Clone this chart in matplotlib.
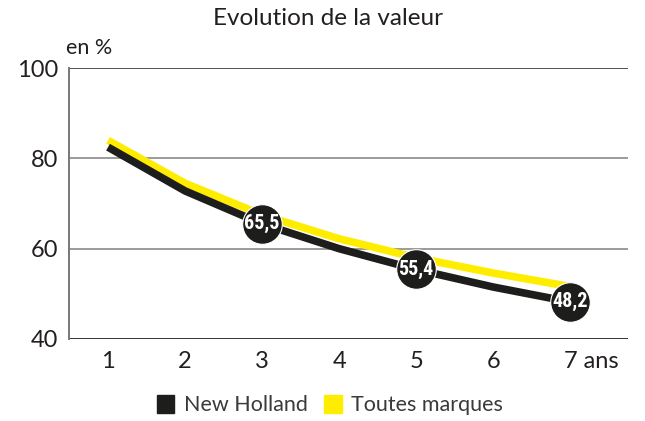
import matplotlib
matplotlib.use("Agg")
import matplotlib.pyplot as plt
import matplotlib.transforms as mtransforms

years = [1, 2, 3, 4, 5, 6, 7]
tick_labels = ["1", "2", "3", "4", "5", "6", "7 ans"]
new_holland = [82.5, 72.8, 65.5, 60.0, 55.4, 51.5, 48.2]
toutes_marques = [84.0, 74.5, 67.5, 62.2, 58.0, 54.6, 51.6]
badge_years = [3, 5, 7]
badge_values = [65.5, 55.4, 48.2]
badge_labels = ["65,5", "55,4", "48,2"]

plt.rcParams["font.family"] = ["Lato", "DejaVu Sans"]

fig = plt.figure(figsize=(6.45, 4.21), dpi=100)
ax = fig.add_axes([0.107, 0.195, 0.867, 0.643])

# x=1 at 108 px, 77 px per year
ax.set_xlim(1 - 39 / 77, 7 + 58 / 77)
ax.set_ylim(40, 100)

for y in (60, 80):
    ax.axhline(y, color="#8a8a8a", lw=1.2, zorder=1)
ax.axhline(100, color="#333333", lw=1.2, zorder=1)
ax.axhline(40, color="#333333", lw=1.4, zorder=1)

ax.plot(years, toutes_marques, color="#ffed00", lw=5.5, solid_capstyle="butt",
        solid_joinstyle="round", zorder=2)
ax.plot(years, new_holland, color="#1d1d1b", lw=5.5, solid_capstyle="butt",
        solid_joinstyle="round", zorder=3)

ax.plot(badge_years, badge_values, "o", ms=28.5, color="#1d1d1b", mec="white",
        mew=0.8, zorder=4)
for x, y, s in zip(badge_years, badge_values, badge_labels):
    ax.text(x, y, s, color="white", ha="center", va="center", fontsize=14.5,
            fontweight="bold",
            family=["Roboto Condensed", "Liberation Sans Narrow", "Roboto"],
            zorder=5)

for side in ("top", "right", "bottom"):
    ax.spines[side].set_visible(False)
ax.spines["left"].set_color("#777777")
ax.spines["left"].set_linewidth(1.4)

ax.set_yticks([40, 60, 80, 100])
ax.set_yticklabels(["40", "60", "80", "100"])
ax.set_xticks(years)
ax.set_xticklabels(tick_labels)
ax.tick_params(axis="both", length=0, labelsize=17, colors="#231f20")
ax.tick_params(axis="y", pad=8)
ax.tick_params(axis="x", pad=9)
last = ax.get_xticklabels()[-1]
last.set_ha("left")
last.set_transform(last.get_transform() +
                   mtransforms.ScaledTranslation(-6 / 100, 0, fig.dpi_scale_trans))

fig.text(0.508, 0.955, "Evolution de la valeur", ha="center", va="center",
         fontsize=17.5, color="#231f20")
fig.text(0.102, 0.885, "en %", ha="left", va="center", fontsize=15.5,
         color="#231f20")

# legend
fig.patches.append(plt.Rectangle((157 / 645, 1 - 413 / 421), 17 / 645, 18 / 421,
                                 transform=fig.transFigure, color="#1d1d1b"))
fig.text(184 / 645, 1 - 405 / 421, "New Holland", ha="left", va="center",
         fontsize=15.5, color="#3a3a3a")
fig.patches.append(plt.Rectangle((324 / 645, 1 - 413 / 421), 18 / 645, 18 / 421,
                                 transform=fig.transFigure, color="#ffed00"))
fig.text(351 / 645, 1 - 405 / 421, "Toutes marques", ha="left", va="center",
         fontsize=15.5, color="#3a3a3a")

fig.savefig("out.png", dpi=100)
